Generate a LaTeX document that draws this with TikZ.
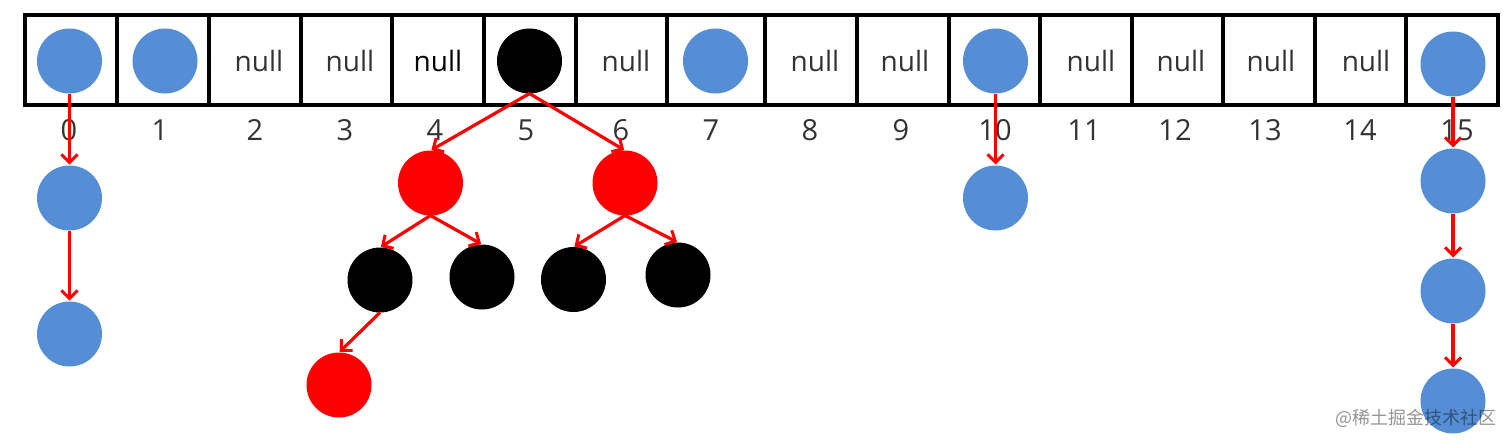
\documentclass[tikz,border=0pt]{standalone}
\usepackage{fontspec}
\setmainfont{Open Sans}
\newfontfamily\cjkwm{Noto Sans CJK SC}
\usetikzlibrary{arrows.meta}
\definecolor{nodeblue}{HTML}{558ED5}
\definecolor{labelgray}{HTML}{333333}
\tikzset{
  x=1pt,y=-1pt,
  gridline/.style={draw=black,line width=3.6pt,line cap=rect},
  nullcell/.style={font=\fontsize{28}{32}\selectfont,text=labelgray,anchor=center,inner sep=0pt},
  idx/.style={font=\fontsize{29}{32}\selectfont,text=labelgray,anchor=center,inner sep=0pt},
  blue node/.style={circle,fill=nodeblue,minimum size=65pt,inner sep=0pt,outer sep=0pt},
  red node/.style={circle,fill=red,minimum size=65pt,inner sep=0pt,outer sep=0pt},
  black node/.style={circle,fill=black,minimum size=65pt,inner sep=0pt,outer sep=0pt},
  link/.style={draw=red,line width=3.2pt,-{Straight Barb[length=8pt,width=16pt,line width=3pt]},shorten >=1pt},
}
\begin{document}
\begin{tikzpicture}
\useasboundingbox (0,0) rectangle (1512,444);
\draw[gridline] (25,15) rectangle (1498,105);
\foreach \i/\x in {1/117,2/209,3/301,4/392,5/484,6/576,7/667,8/765,9/857,10/949,11/1040,12/1132,13/1223,14/1315,15/1406}
  \draw[gridline] (\x,15) -- (\x,105);
\foreach \n/\x in {2/259,3/350,6/626,8/815,9/905,11/1091,12/1181,13/1271,14/1366}
  \node[nullcell] (null\n) at (\x,61) {null};
\node[nullcell,text=black] (null4) at (438,61) {null};
\foreach \n/\x in {0/69,1/160,2/255,3/345,4/435,5/526,6/621,7/711,8/810,9/901,10/995,11/1084,12/1175,13/1265,14/1360,15/1457}
  \node[idx] (idx\n) at (\x,130) {\n};
\node[blue node] (a0) at (69.5,61) {};
\node[blue node] (a1) at (165,61) {};
\node[black node] (a5) at (529.5,61) {};
\node[blue node] (a7) at (715.5,61) {};
\node[blue node] (a10) at (995.5,61) {};
\node[blue node] (a15) at (1453,64) {};
\node[blue node] (b0) at (69.5,198) {};
\node[blue node] (c0) at (69.5,334) {};
\node[blue node] (b10) at (995.5,198) {};
\node[blue node] (b15) at (1453,181) {};
\node[blue node] (c15) at (1453,291) {};
\node[blue node] (d15) at (1453,401) {};
\node[red node] (r1) at (430.5,183) {};
\node[red node] (r2) at (625,183) {};
\node[black node] (k1) at (380,280) {};
\node[black node] (k2) at (482,277) {};
\node[black node] (k3) at (573.5,279.5) {};
\node[black node] (k4) at (678,275) {};
\node[red node] (r3) at (339,385) {};
\draw[link] (a0) -- (b0);
\draw[link] (b0) -- (c0);
\draw[link] (a10) -- (b10);
\draw[link] (a15) -- (b15);
\draw[link] (b15) -- (c15);
\draw[link] (c15) -- (d15);
\draw[link] (a5.south) -- (r1.north);
\draw[link] (a5.south) -- (r2.north);
\draw[link] (r1.south) -- (k1.north);
\draw[link] (r1.south) -- (k2.north);
\draw[link] (r2.south) -- (k3.north);
\draw[link] (r2.south) -- (k4.north);
\draw[link] (k1.south) -- (r3.north);
\node[anchor=east,inner sep=0pt,text=black,text opacity=0.42,font=\fontsize{18}{20}\cjkwm] (wm) at (1497,418) {@稀土掘金技术社区};
\end{tikzpicture}
\end{document}
